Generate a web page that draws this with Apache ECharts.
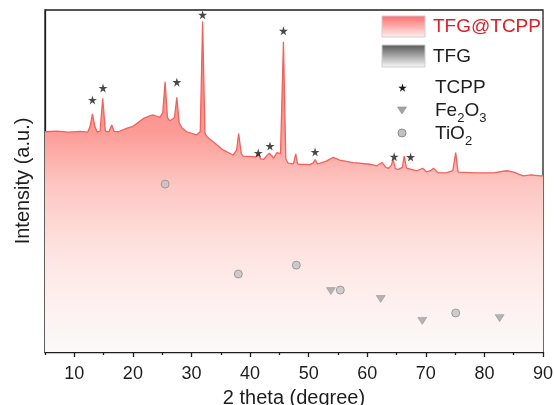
<!DOCTYPE html>
<html>
<head>
<meta charset="utf-8">
<script src="https://cdn.jsdelivr.net/npm/echarts@6/dist/echarts.min.js"></script>
<style>
html,body{margin:0;padding:0;background:#fff;}
#chart{width:554px;height:405px;}
</style>
</head>
<body>
<div id="chart"></div>
<script>
// ---- data ----
const twoTheta = [5.0,7.0,9.0,11.0,12.3,12.7,13.1,13.5,13.9,14.4,14.85,15.3,15.9,16.4,16.8,17.5,18.9,20.0,20.6,21.8,23.0,23.5,24.6,25.1,25.5,25.9,26.3,27.1,27.5,27.9,28.4,29.2,30.9,31.5,31.9,32.3,32.6,33.7,35.4,37.1,37.7,38.05,38.5,38.8,40.5,41.0,41.4,41.8,42.3,42.9,43.3,43.7,44.0,44.6,45.2,45.7,46.1,46.5,47.4,47.8,48.1,48.5,50.2,50.8,51.1,51.5,52.0,53.0,54.2,55.3,57.6,60.5,61.6,62.5,63.2,63.6,64.1,64.4,64.8,65.3,66.0,66.3,66.7,67.0,68.4,69.5,70.1,70.8,71.3,72.1,73.5,74.6,75.1,75.5,75.7,78.7,81.5,83.8,85.0,86.6,88.0,89.5,90.0];
const intensityTFGTCPP = [64.4,64.6,64.3,64.5,64.3,66.0,69.6,66.0,64.3,64.6,74.2,64.6,64.4,66.4,64.5,64.4,65.4,66.0,66.7,68.3,69.1,69.3,68.6,70.0,79.0,68.5,67.6,68.5,74.5,67.0,65.5,64.4,63.5,64.5,96.6,64.0,63.0,61.5,59.1,57.6,59.0,63.9,58.0,57.3,57.1,57.0,58.0,56.5,56.3,57.5,58.1,57.4,56.7,58.3,58.0,90.7,56.5,55.2,55.0,57.9,55.0,54.9,54.8,55.3,56.3,55.0,55.2,55.8,56.9,56.1,55.4,54.9,54.4,55.4,54.0,53.7,54.5,56.3,53.6,53.4,54.0,57.3,53.8,53.4,53.0,53.7,52.7,53.0,53.7,52.4,52.4,53.0,58.3,52.6,52.3,52.4,52.4,53.0,52.6,51.5,51.8,51.5,51.5];

const tcppX = [13.1,14.9,27.5,31.9,41.4,43.4,45.7,51.1,64.6,67.4];
const tcppY = [73.7,77.2,78.9,98.6,58.2,60.2,93.9,58.5,57.1,57.0];

const fe2o3X = [53.8,62.3,69.4,82.6];
const fe2o3Y = [17.8,15.5,9.1,9.9];

const tio2X = [25.5,38.0,47.9,55.4,75.1];
const tio2Y = [49.1,22.8,25.4,18.1,11.4];

const majorTicks = [10,20,30,40,50,60,70,80,90];
const minorTicks = [5,15,25,35,45,55,65,75,85];

const seriesNames = ['TFG@TCPP','TFG','TCPP','Fe2O3','TiO2'];
const xAxisTitle = '2 theta (degree)';
const yAxisTitle = 'Intensity (a.u.)';

// ---- build ----
const zip = (a, b) => a.map((v, i) => [v, b[i]]);
const FONT = '"Liberation Sans", Arial, sans-serif';
const INK = '#1e1e1e';
const starPts = [[50,0],[61,35],[98,35],[68,57],[79,91],[50,70],[21,91],[32,57],[2,35],[39,35]];
const starPath = 'path://M' + starPts.map(p => p.join(',')).join(' L') + ' Z';
const legendStar = starPts.map(p => [398 + p[0] * 0.09, 83.5 + p[1] * 0.09]);

const chart = echarts.init(document.getElementById('chart'), null, {renderer: 'canvas'});

const richSub = {
  m: {fontSize: 19, fontFamily: FONT, color: INK, lineHeight: 28, verticalAlign: 'middle'},
  s: {fontSize: 13, fontFamily: FONT, color: INK, verticalAlign: 'bottom'}
};

const option = {
  animation: false,
  backgroundColor: '#ffffff',
  grid: {left: 45, right: 11, top: 10, bottom: 53, outerBoundsMode: 'none', containLabel: false,
         show: true, borderColor: INK, borderWidth: 1.3, backgroundColor: 'transparent'},
  xAxis: [{
    type: 'value', min: 5, max: 90, interval: 5,
    axisLine: {show: true, onZero: false, lineStyle: {color: INK, width: 1.3}},
    axisTick: {show: true, customValues: majorTicks, length: 5, lineStyle: {color: INK, width: 1.3}},
    axisLabel: {customValues: majorTicks, fontSize: 18, color: INK, fontFamily: FONT, margin: 13},
    splitLine: {show: false},
    name: xAxisTitle, nameLocation: 'middle', nameGap: 36,
    nameTextStyle: {fontSize: 20, color: INK, fontFamily: FONT}
  }, {
    type: 'value', min: 5, max: 90, interval: 5, position: 'bottom',
    axisLine: {show: false},
    axisTick: {show: true, customValues: minorTicks, length: 3, lineStyle: {color: INK, width: 1.3}},
    axisLabel: {show: false},
    splitLine: {show: false}
  }],
  yAxis: {
    type: 'value', min: 0, max: 100,
    axisLine: {show: true, onZero: false, lineStyle: {color: INK, width: 1.3}},
    axisTick: {show: false},
    axisLabel: {show: false},
    splitLine: {show: false},
    name: yAxisTitle, nameLocation: 'middle', nameGap: 12,
    nameTextStyle: {fontSize: 20, color: INK, fontFamily: FONT}
  },
  series: [{
    name: seriesNames[0], type: 'line', xAxisIndex: 0,
    data: zip(twoTheta, intensityTFGTCPP),
    showSymbol: false, smooth: false,
    lineStyle: {color: '#f2625d', width: 1.3},
    areaStyle: {
      origin: 'start',
      color: {type: 'linear', x: 0, y: 10, x2: 0, y2: 352, global: true, colorStops: [
        {offset: 0, color: '#f87670'},
        {offset: 0.357, color: '#fc9b96'},
        {offset: 0.51, color: '#fdc6c2'},
        {offset: 0.7, color: '#fde3e0'},
        {offset: 0.85, color: '#fdf0ee'},
        {offset: 1, color: '#fbf9f9'}
      ]},
      opacity: 1
    },
    z: 2
  }, {
    name: seriesNames[2], type: 'scatter', data: zip(tcppX, tcppY),
    symbol: starPath, symbolSize: 9, itemStyle: {color: '#1a1a1a'}, z: 5
  }, {
    name: seriesNames[3], type: 'scatter', data: zip(fe2o3X, fe2o3Y),
    symbol: 'triangle', symbolRotate: 180, symbolSize: [9, 7],
    itemStyle: {color: '#a3a3a3', borderColor: '#8e8e8e', borderWidth: 0.6}, z: 5
  }, {
    name: seriesNames[4], type: 'scatter', data: zip(tio2X, tio2Y),
    symbol: 'circle', symbolSize: 8,
    itemStyle: {color: '#c2c2c2', borderColor: '#8f8f8f', borderWidth: 1}, z: 5
  }],
  graphic: [
    {type: 'rect', shape: {x: 382, y: 16, width: 43, height: 21}, z: 10,
     style: {stroke: '#cfcfcf', lineWidth: 1,
       fill: {type: 'linear', x: 0, y: 0, x2: 0, y2: 1, colorStops: [{offset: 0, color: '#ff6a6a'}, {offset: 1, color: '#fff1f1'}]}}},
    {type: 'text', x: 433, y: 27, z: 10,
     style: {text: seriesNames[0], fontSize: 19, fontFamily: FONT, fill: '#e01e28', verticalAlign: 'middle'}},
    {type: 'rect', shape: {x: 382, y: 45, width: 43, height: 22}, z: 10,
     style: {stroke: '#cfcfcf', lineWidth: 1,
       fill: {type: 'linear', x: 0, y: 0, x2: 0, y2: 1, colorStops: [{offset: 0, color: '#555555'}, {offset: 1, color: '#fbfbfb'}]}}},
    {type: 'text', x: 433, y: 57, z: 10,
     style: {text: seriesNames[1], fontSize: 19, fontFamily: FONT, fill: INK, verticalAlign: 'middle'}},
    {type: 'polygon', z: 10, shape: {points: legendStar}, style: {fill: '#1a1a1a'}},
    {type: 'text', x: 435, y: 88, z: 10,
     style: {text: seriesNames[2], fontSize: 19, fontFamily: FONT, fill: INK, verticalAlign: 'middle'}},
    {type: 'polygon', z: 10, shape: {points: [[397.5, 107], [406.5, 107], [402, 114]]},
     style: {fill: '#a3a3a3', stroke: '#8e8e8e', lineWidth: 0.6}},
    {type: 'text', x: 435, y: 97, z: 10,
     style: {text: '{m|Fe}{s|2}{m|O}{s|3}', fontFamily: FONT, fill: INK, rich: richSub}},
    {type: 'circle', z: 10, shape: {cx: 402, cy: 133, r: 4},
     style: {fill: '#c2c2c2', stroke: '#8f8f8f', lineWidth: 1}},
    {type: 'text', x: 435, y: 120, z: 10,
     style: {text: '{m|TiO}{s|2}', fontFamily: FONT, fill: INK, rich: richSub}}
  ]
};
chart.setOption(option);
</script>
</body>
</html>
